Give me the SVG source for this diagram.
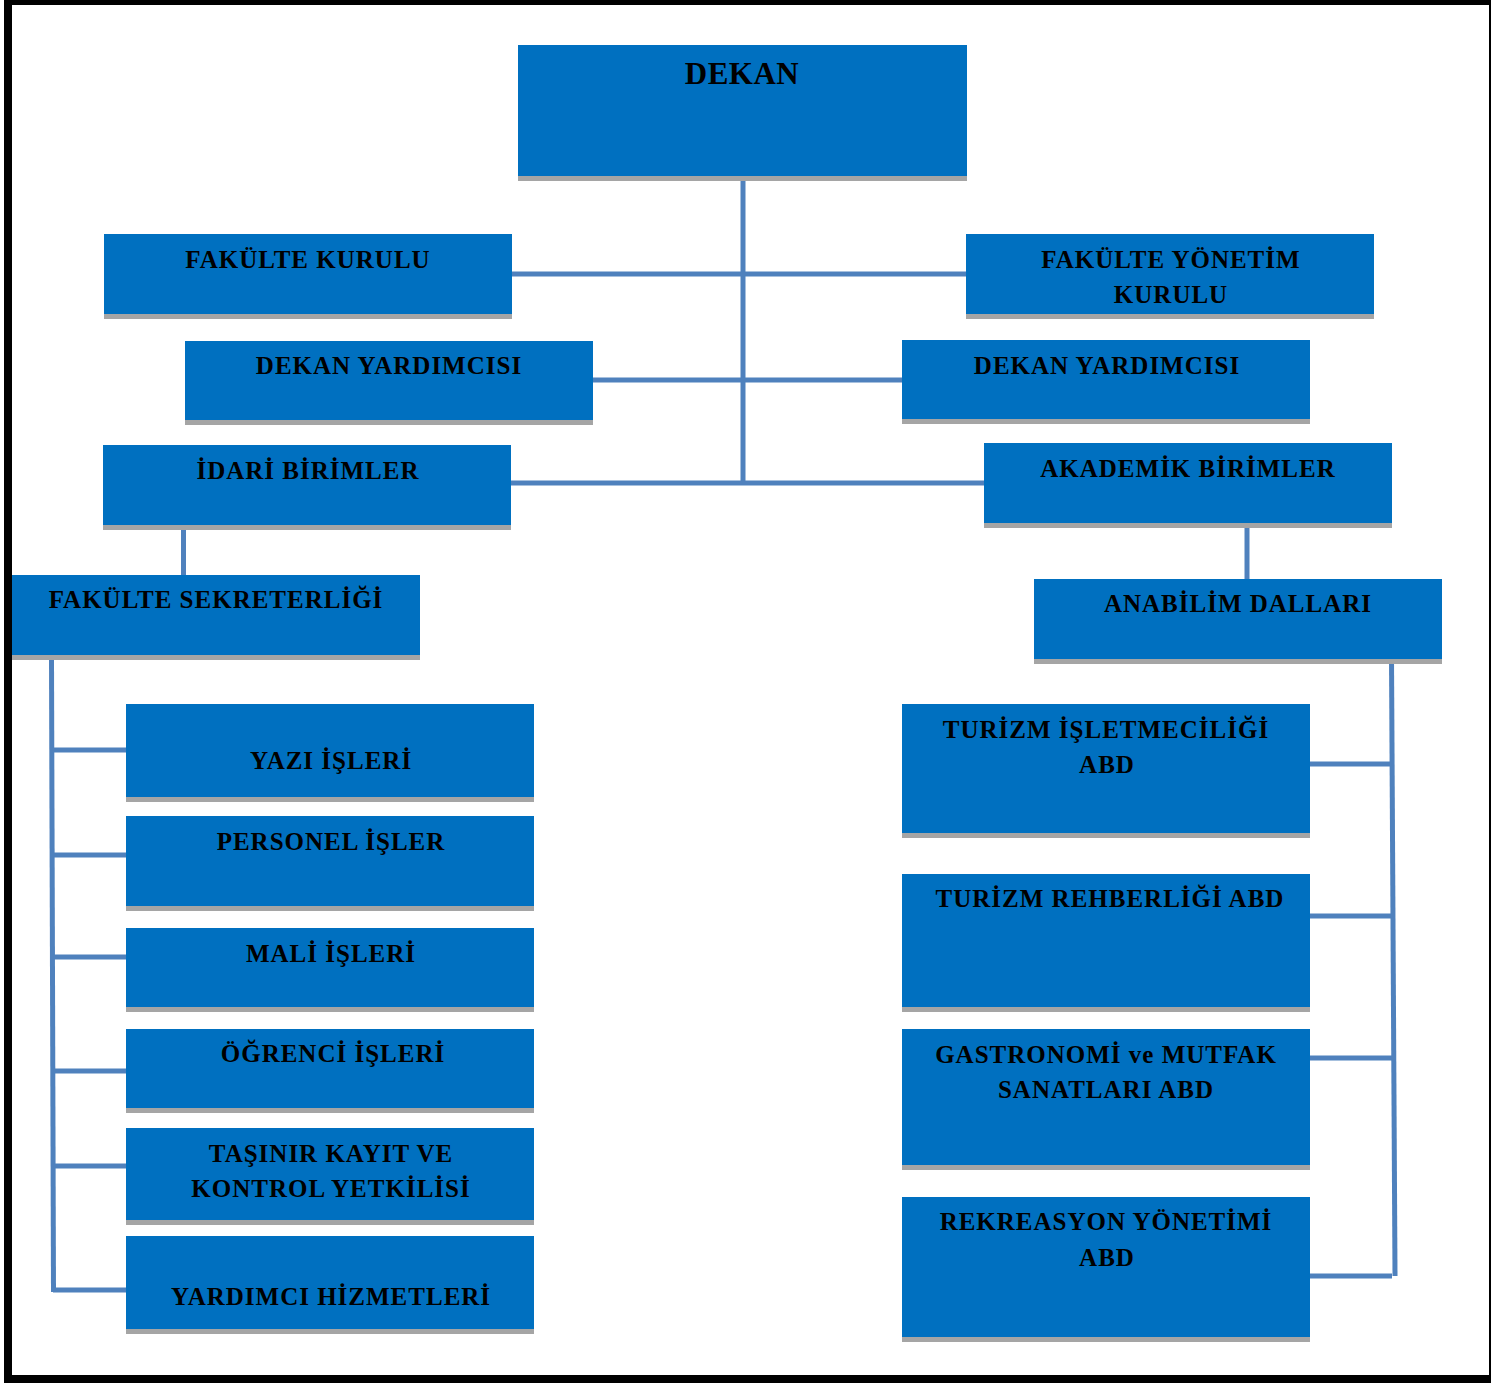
<svg xmlns="http://www.w3.org/2000/svg" width="1491" height="1383" viewBox="0 0 1491 1383">
<style>
.box{fill:#0070C0}
.sh{fill:#A5A5A5}
.t{font-family:"Liberation Serif","Times New Roman",serif;font-weight:bold;font-size:25px;letter-spacing:1px;fill:#000;text-anchor:middle}
.big{font-size:31px;letter-spacing:0.5px}
.c{stroke:#4F81BD;stroke-width:5;fill:none}
</style>
<rect x="0" y="0" width="1491" height="1383" fill="#fff"/>
<rect x="8" y="1" width="1485" height="1378" fill="none" stroke="#000" stroke-width="8"/>
<g id="connectors">
<line class="c" x1="743" y1="181" x2="743" y2="485"/>
<line class="c" x1="512" y1="274" x2="966" y2="274"/>
<line class="c" x1="593" y1="380" x2="902" y2="380"/>
<line class="c" x1="511" y1="483" x2="984" y2="483"/>
<line class="c" x1="183.5" y1="528" x2="183.5" y2="575"/>
<line class="c" x1="1247" y1="526" x2="1247" y2="579"/>
<line class="c" x1="51.5" y1="660" x2="53.5" y2="1292"/>
<line class="c" x1="52" y1="750" x2="126" y2="750"/>
<line class="c" x1="52" y1="855" x2="126" y2="855"/>
<line class="c" x1="52" y1="957" x2="126" y2="957"/>
<line class="c" x1="52" y1="1071" x2="126" y2="1071"/>
<line class="c" x1="53" y1="1166" x2="133" y2="1166"/>
<line class="c" x1="53" y1="1290" x2="133" y2="1290"/>
<line class="c" x1="1391.5" y1="659" x2="1395" y2="1276"/>
<line class="c" x1="1310" y1="764" x2="1391" y2="764"/>
<line class="c" x1="1310" y1="916" x2="1391" y2="916"/>
<line class="c" x1="1310" y1="1058" x2="1392" y2="1058"/>
<line class="c" x1="1304" y1="1276" x2="1392" y2="1276"/>
</g>
<g id="dekan"><rect class="sh" x="518" y="176" width="449" height="5"/><rect class="box" x="518" y="45" width="449" height="131"/><text class="t big" x="742" y="84">DEKAN</text></g>
<g id="fakulte-kurulu"><rect class="sh" x="104" y="314" width="408" height="5"/><rect class="box" x="104" y="234" width="408" height="80"/><text class="t" x="308" y="268">FAKÜLTE KURULU</text></g>
<g id="fakulte-yonetim-kurulu"><rect class="sh" x="966" y="314" width="408" height="5"/><rect class="box" x="966" y="234" width="408" height="80"/><text class="t" x="1171" y="268">FAKÜLTE YÖNETİM</text><text class="t" x="1171" y="303">KURULU</text></g>
<g id="dekan-yardimcisi-1"><rect class="sh" x="185" y="420" width="408" height="5"/><rect class="box" x="185" y="341" width="408" height="79"/><text class="t" x="389" y="374">DEKAN YARDIMCISI</text></g>
<g id="dekan-yardimcisi-2"><rect class="sh" x="902" y="419" width="408" height="5"/><rect class="box" x="902" y="340" width="408" height="79"/><text class="t" x="1107" y="374">DEKAN YARDIMCISI</text></g>
<g id="idari-birimler"><rect class="sh" x="103" y="525" width="408" height="5"/><rect class="box" x="103" y="445" width="408" height="80"/><text class="t" x="308" y="479">İDARİ BİRİMLER</text></g>
<g id="akademik-birimler"><rect class="sh" x="984" y="523" width="408" height="5"/><rect class="box" x="984" y="443" width="408" height="80"/><text class="t" x="1188" y="477">AKADEMİK BİRİMLER</text></g>
<g id="fakulte-sekreterligi"><rect class="sh" x="12" y="655" width="408" height="5"/><rect class="box" x="12" y="575" width="408" height="80"/><text class="t" x="216" y="608">FAKÜLTE SEKRETERLİĞİ</text></g>
<g id="anabilim-dallari"><rect class="sh" x="1034" y="659" width="408" height="5"/><rect class="box" x="1034" y="579" width="408" height="80"/><text class="t" x="1238" y="612">ANABİLİM DALLARI</text></g>
<g id="yazi-isleri"><rect class="sh" x="126" y="797" width="408" height="5"/><rect class="box" x="126" y="704" width="408" height="93"/><text class="t" x="331" y="769">YAZI İŞLERİ</text></g>
<g id="personel-isler"><rect class="sh" x="126" y="906" width="408" height="5"/><rect class="box" x="126" y="816" width="408" height="90"/><text class="t" x="331" y="850">PERSONEL İŞLER</text></g>
<g id="mali-isleri"><rect class="sh" x="126" y="1007" width="408" height="5"/><rect class="box" x="126" y="928" width="408" height="79"/><text class="t" x="331" y="962">MALİ İŞLERİ</text></g>
<g id="ogrenci-isleri"><rect class="sh" x="126" y="1108" width="408" height="5"/><rect class="box" x="126" y="1029" width="408" height="79"/><text class="t" x="333" y="1062">ÖĞRENCİ İŞLERİ</text></g>
<g id="tasinir"><rect class="sh" x="126" y="1220" width="408" height="5"/><rect class="box" x="126" y="1128" width="408" height="92"/><text class="t" x="331" y="1162">TAŞINIR KAYIT VE</text><text class="t" x="331" y="1197">KONTROL YETKİLİSİ</text></g>
<g id="yardimci-hizmetleri"><rect class="sh" x="126" y="1329" width="408" height="5"/><rect class="box" x="126" y="1236" width="408" height="93"/><text class="t" x="331" y="1305">YARDIMCI HİZMETLERİ</text></g>
<g id="turizm-isletmeciligi"><rect class="sh" x="902" y="833" width="408" height="5"/><rect class="box" x="902" y="704" width="408" height="129"/><text class="t" x="1106" y="738">TURİZM İŞLETMECİLİĞİ</text><text class="t" x="1107" y="773">ABD</text></g>
<g id="turizm-rehberligi"><rect class="sh" x="902" y="1007" width="408" height="5"/><rect class="box" x="902" y="874" width="408" height="133"/><text class="t" x="1110" y="907">TURİZM REHBERLİĞİ ABD</text></g>
<g id="gastronomi"><rect class="sh" x="902" y="1165" width="408" height="5"/><rect class="box" x="902" y="1029" width="408" height="136"/><text class="t" x="1106" y="1063">GASTRONOMİ ve MUTFAK</text><text class="t" x="1106" y="1098">SANATLARI ABD</text></g>
<g id="rekreasyon"><rect class="sh" x="902" y="1337" width="408" height="5"/><rect class="box" x="902" y="1197" width="408" height="140"/><text class="t" x="1106" y="1230">REKREASYON YÖNETİMİ</text><text class="t" x="1107" y="1266">ABD</text></g>
</svg>
